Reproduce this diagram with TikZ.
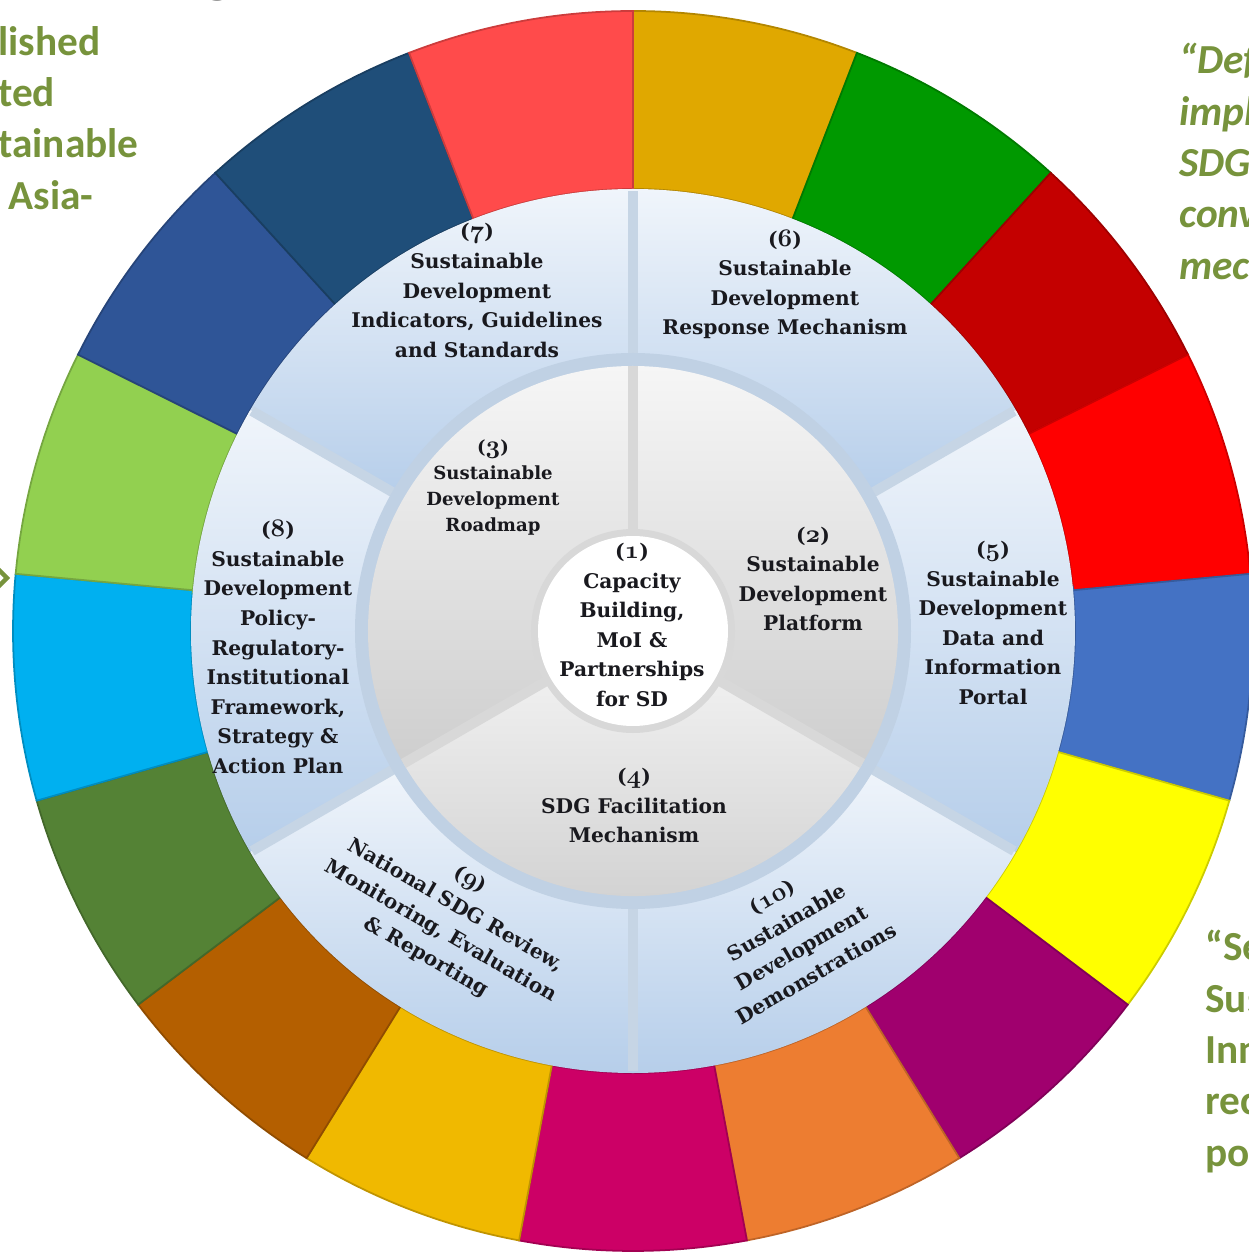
\documentclass[tikz,border=0pt]{standalone}
\usepackage{fontspec}
\newfontfamily\sidefont{Carlito}
\newfontfamily\lblfont{DejaVu Serif}
\definecolor{sdgmustard}{RGB}{224,168,0}
\definecolor{sdggreen}{RGB}{0,153,0}
\definecolor{sdgdarkred}{RGB}{196,0,0}
\definecolor{sdgred}{RGB}{255,0,0}
\definecolor{sdgblue}{RGB}{68,114,196}
\definecolor{sdgyellow}{RGB}{255,255,0}
\definecolor{sdgpurple}{RGB}{160,0,110}
\definecolor{sdgorange}{RGB}{237,125,49}
\definecolor{sdgmagenta}{RGB}{204,0,102}
\definecolor{sdggold}{RGB}{240,185,0}
\definecolor{sdgbrown}{RGB}{180,95,0}
\definecolor{sdgdkgreen}{RGB}{84,130,53}
\definecolor{sdgcyan}{RGB}{0,176,240}
\definecolor{sdgltgreen}{RGB}{146,208,80}
\definecolor{sdgblueb}{RGB}{47,85,151}
\definecolor{sdgnavy}{RGB}{31,78,121}
\definecolor{sdgsalmon}{RGB}{255,75,75}
\definecolor{sidegreen}{RGB}{119,147,60}
\definecolor{lbltext}{RGB}{25,25,30}
\definecolor{ringtop}{RGB}{240,245,251}
\definecolor{ringbot}{RGB}{182,206,234}
\definecolor{ringbar}{RGB}{198,213,229}
\definecolor{disktop}{RGB}{246,246,246}
\definecolor{diskbot}{RGB}{206,206,206}
\definecolor{diskbar}{RGB}{216,216,216}
\definecolor{diskband}{RGB}{192,209,228}
\newcommand\osf[1]{{\fontsize{15}{16.8}\usefont{OML}{cmm}{b}{it}#1}}

\begin{document}
\begin{tikzpicture}[x=2mm, y=2mm,
	lbl/.style={align=center, inner sep=0pt, text=lbltext, font=\lblfont\bfseries\fontsize{11.5}{16.8}\selectfont},
	lblsmall/.style={lbl, font=\lblfont\bfseries\fontsize{10.3}{14.7}\selectfont},
	side/.style={text=sidegreen, align=left, inner sep=0pt, font=\sidefont\bfseries\fontsize{23.5}{29.2}\selectfont}]

			\useasboundingbox (-63.3,-62.2) rectangle (61.6,63.1);
			\clip (-63.3,-62.2) rectangle (61.6,63.1);

			% anneau des couleurs
			\foreach \c [count=\i from 0] in {sdgmustard,sdggreen,sdgdarkred,sdgred,sdgblue,sdgyellow,sdgpurple,sdgorange,sdgmagenta,sdggold,sdgbrown,sdgdkgreen,sdgcyan,sdgltgreen,sdgblueb,sdgnavy,sdgsalmon} {
				\pgfmathsetmacro{\a}{90-\i*360/17}
				\pgfmathsetmacro{\b}{\a-360/17}
				\filldraw[fill=\c, draw=\c!80!black, line width=1pt]
					(\a:44.2) -- (\a:62) arc[start angle=\a, end angle=\b, radius=62]
					-- (\b:44.2) arc[start angle=\b, end angle=\a, radius=44.2] -- cycle;
			}

			% anneau bleu
			\foreach \k in {0,...,5} {
				\pgfmathsetmacro{\a}{30+\k*60}
				\shade[top color=ringtop, bottom color=ringbot]
					(\a:27) -- (\a:44.2) arc[start angle=\a, end angle=\a+60, radius=44.2]
					-- (\a+60:27) arc[start angle=\a+60, end angle=\a, radius=27] -- cycle;
			}
			\foreach \k in {0,...,5} {
				\draw[ringbar, line width=2mm] (30+\k*60:27) -- (30+\k*60:44);
			}

			% disque gris
			\fill[diskband] (0,0) circle (27.8);
			\foreach \k in {0,1,2} {
				\pgfmathsetmacro{\a}{90+\k*120}
				\shade[top color=disktop, bottom color=diskbot]
					(0,0) -- (\a:26.5) arc[start angle=\a, end angle=\a+120, radius=26.5] -- cycle;
			}
			\foreach \k in {0,1,2} {
				\draw[diskbar, line width=2mm] (90+\k*120:9) -- (90+\k*120:26.5);
			}
			\fill[diskbar] (0,0) circle (10.2);
			\fill[white] (0,0) circle (9.5);

			% textes
			\node[lbl] (cap) at (-0.1,0.6) {(\osf{1})\\Capacity\\Building,\\MoI \&\\Partnerships\\for SD};
			\node[lbl] (plat) at (18,5.2) {(\osf{2})\\Sustainable\\Development\\Platform};
			\node[lblsmall] (road) at (-14,14.35) {(\osf{3})\\Sustainable\\Development\\Roadmap};
			\node[lbl] (facil) at (0.1,-17.45) {(\osf{4})\\SDG Facilitation\\Mechanism};
			\node[lbl] (portal) at (36,0.8) {(\osf{5})\\Sustainable\\Development\\Data and\\Information\\Portal};
			\node[lbl] (resp) at (15.2,34.65) {(\osf{6})\\Sustainable\\Development\\Response Mechanism};
			\node[lbl] (indic) at (-15.6,34.05) {(\osf{7})\\Sustainable\\Development\\Indicators, Guidelines\\and Standards};
			\node[lbl] (policy) at (-35.5,-1.6) {(\osf{8})\\Sustainable\\Development\\Policy-\\Regulatory-\\Institutional\\Framework,\\Strategy \&\\Action Plan};
			\node[lbl, rotate=-30] (review) at (-18.5,-28.8) {(\osf{9})\\National SDG Review,\\Monitoring, Evaluation\\\& Reporting};
			\node[lbl, rotate=30] (demo) at (16.1,-30.4) {(\osf{10})\\Sustainable\\Development\\Demonstrations};

			% textes coupes
			\node[side, anchor=north west] (leftside) at (-63.5,60.5) {lished\\ted\\tainable\\\hspace*{0.25em}Asia-};
			\node[side, anchor=north west, font=\sidefont\bfseries\itshape\fontsize{23.5}{29.2}\selectfont] (rightside) at (54.6,58.8) {“Def\\impl\\SDG\\conv\\mec};
			\node[side, anchor=north west] (lowside) at (57.2,-29.9) {“Se\\Sus\\Inn\\rec\\po};
			\node[anchor=base, font=\sidefont\bfseries\fontsize{45}{50}\selectfont] (titre) at (-41.5,64.3) {g};
			\draw[sidegreen, line width=2.5pt] (-63.8,6.5) -- (-62.6,5.3) -- (-63.8,4.1);
		\end{tikzpicture}
\end{document}
